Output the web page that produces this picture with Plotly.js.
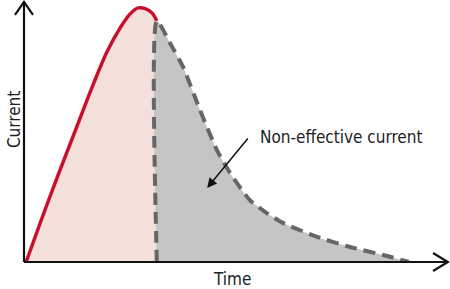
<!DOCTYPE html>
<html>
<head>
<meta charset="utf-8">
<script src="https://cdn.plot.ly/plotly-3.0.1.min.js"></script>
<style>html,body{margin:0;padding:0;background:#fff;}#chart{width:450px;height:289px;}</style>
</head>
<body>
<div id="chart"></div>
<script>
// Effective current (rising part, red)
const effTime = [0.5, 6.1, 12.1, 16.3, 19.6, 22.7, 25.1, 27.0, 28.8, 30.3, 31.4];
const effCurrent = [0, 25.1, 50.6, 68.3, 81.1, 90.3, 95.8, 98.1, 97.7, 96.1, 93.1];
// Non-effective current (decay, dashed gray)
const nonTime = [31.4, 31.4, 34.5, 37.6, 41.6, 45.6, 48.7, 53.4, 57.4, 61.2, 69.3, 77.1, 84.9, 91.0];
const nonCurrent = [0, 93.1, 84.6, 75.3, 58.7, 43.2, 34.4, 23.9, 18.9, 15.1, 9.7, 5.8, 2.7, 0];
const labelText = 'Non-effective current';
const labelPos = {t: 55.3, c: 48.3};
const arrowTail = {t: 53.2, c: 48.3};
const arrowHead = {t: 43.3, c: 28.6};

const font = 'Liberation Sans Narrow, Arial Narrow, DejaVu Sans Condensed, sans-serif';

const traces = [
  {x: effTime, y: effCurrent, mode: 'lines', fill: 'tozeroy', fillcolor: '#f4e0da',
   line: {color: '#c8102e', width: 3.5, shape: 'spline'}, hoverinfo: 'skip'},
  {x: nonTime, y: nonCurrent, mode: 'lines', fill: 'tozeroy', fillcolor: '#c4c5c7',
   line: {color: '#666666', width: 4, dash: '12px,7px', shape: 'spline', smoothing: 0.6}, hoverinfo: 'skip'}
];

const layout = {
  width: 450, height: 289,
  margin: {l: 24, r: 3, t: 3, b: 27},
  paper_bgcolor: '#fff', plot_bgcolor: '#fff',
  showlegend: false,
  xaxis: {range: [0, 100], visible: false, fixedrange: true},
  yaxis: {range: [0, 100], visible: false, fixedrange: true},
  shapes: [
    {type: 'line', xref: 'paper', yref: 'paper', x0: 0, y0: 0, x1: 1.002, y1: 0, line: {color: '#111', width: 2.2}},
    {type: 'line', xref: 'paper', yref: 'paper', x0: 0, y0: 0, x1: 0, y1: 1.004, line: {color: '#111', width: 2.2}},
    {type: 'path', xref: 'paper', yref: 'paper', path: 'M 0.967 0.0347 L 1.002 0 L 0.967 -0.0347', line: {color: '#111', width: 2.2}},
    {type: 'path', xref: 'paper', yref: 'paper', path: 'M -0.0213 0.954 L 0 1.004 L 0.0213 0.954', line: {color: '#111', width: 2.2}}
  ],
  annotations: [
    {xref: 'paper', yref: 'paper', x: 0.492, y: -0.064, text: 'Time', showarrow: false,
     xanchor: 'center', yanchor: 'middle', font: {family: font, size: 17, color: '#222'}},
    {xref: 'paper', yref: 'paper', x: -0.0236, y: 0.548, text: 'Current', showarrow: false, textangle: -90,
     xanchor: 'center', yanchor: 'middle', font: {family: font, size: 17, color: '#222'}},
    {x: labelPos.t, y: labelPos.c, text: labelText, showarrow: false, xanchor: 'left', yanchor: 'middle',
     font: {family: font, size: 17, color: '#222'}},
    {x: arrowHead.t, y: arrowHead.c, ax: arrowTail.t, ay: arrowTail.c, axref: 'x', ayref: 'y', text: '',
     showarrow: true, arrowhead: 2, arrowsize: 1.3, arrowwidth: 1.5, arrowcolor: '#111'}
  ]
};

Plotly.newPlot('chart', traces, layout, {staticPlot: true, displayModeBar: false});
</script>
</body>
</html>
